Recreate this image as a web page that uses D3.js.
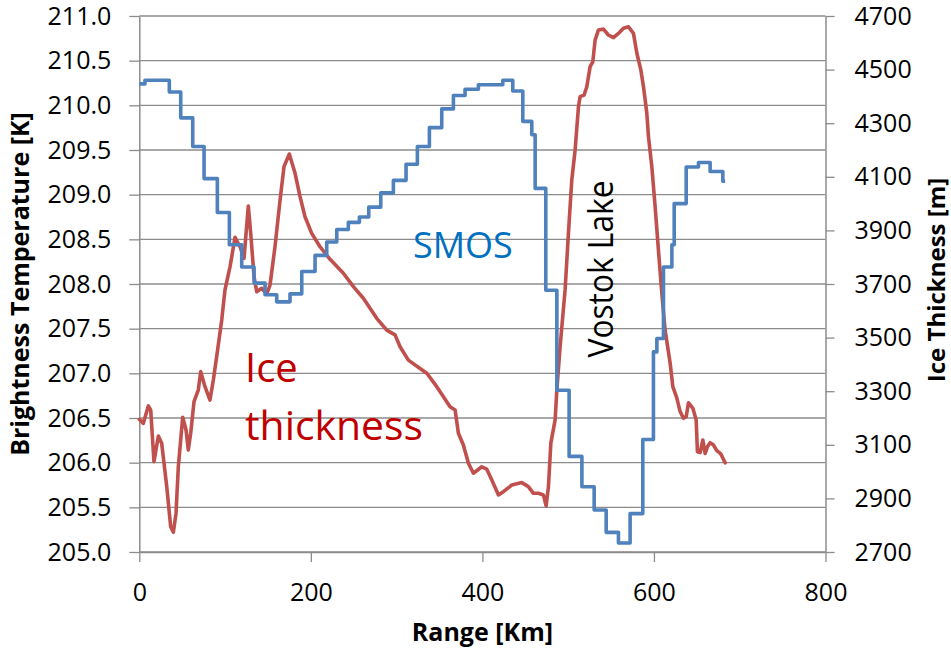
<!DOCTYPE html>
<html>
<head>
<meta charset="utf-8">
<script src="https://cdn.jsdelivr.net/npm/d3@7"></script>
<style>
	body { margin: 0; background: #fff; }
	svg text { font-family: "Open Sans", sans-serif; }
</style>
</head>
<body>
<div id="graph"></div>
<script>
// SMOS brightness temperature, step line: range where each level starts [km] and level [K]
var smosRange = [0, 6.6, 35, 48.3, 62.3, 75.5, 91, 105, 119.4, 133.8, 146.6, 160.2, 175.7, 189.4,
	204.9, 218.5, 230.2, 243.7, 256.6, 267.5, 281.5, 296.2, 311, 324.2, 338.2, 352.6, 366.2, 379.8,
	395.3, 423.8, 435.4, 447.1, 457.6, 461.5, 473.9, 486.8, 501.1, 516, 530.3, 544.3, 558.6, 572.2,
	587, 599.4, 603.4, 611.1, 620.9, 623.6, 637.6, 651.9, 665.5, 680.3, 683];
var smosTemp = [210.24, 210.28, 210.15, 209.86, 209.54, 209.18, 208.80, 208.44, 208.19, 208.01, 207.88, 207.80, 207.89, 208.14,
	208.32, 208.47, 208.61, 208.69, 208.75, 208.86, 209.02, 209.16, 209.34, 209.54, 209.75, 209.96, 210.11, 210.18,
	210.23, 210.28, 210.16, 209.82, 209.67, 209.07, 207.93, 206.81, 206.07, 205.73, 205.47, 205.22, 205.10, 205.43,
	206.26, 207.24, 207.39, 208.19, 208.44, 208.90, 209.31, 209.36, 209.26, 209.15, 209.15];

// ice thickness profile [km] / [m]
var iceRange = [0, 4.7, 10.5, 13.3, 17.1, 22.2, 26.1, 32, 36.6, 39.7, 42.8, 45.5, 50.6, 54.5, 57.1, 59.9,
	63.8, 68.8, 71.6, 76.6, 82.4, 86.3, 91, 96.1, 99.9, 105.8, 111.6, 117.4, 122.1, 127.1, 129.9, 133.8,
	136.9, 142.7, 148.6, 152.4, 158.2, 164.1, 168.7, 174.9, 181.6, 187.4, 193.2, 201, 210.7, 222.4, 237.9,
	249.6, 261.2, 276.8, 288.5, 298.2, 304, 313.7, 327.3, 335.2, 346.8, 362.3, 368.2, 372, 377.8, 383.7,
	389.5, 399.3, 405.1, 411, 418.7, 424.5, 434.3, 445.9, 453.6, 459.5, 465.3, 471.1, 474.3, 477, 479.8,
	484.8, 486.8, 490.6, 496.4, 500.3, 504.2, 508.1, 512, 513.9, 518.6, 521.7, 525.6, 528.7, 531.4, 535.3,
	541.1, 546.9, 552.8, 558.6, 564.4, 570.3, 576.1, 580.1, 584.7, 587.8, 591.7, 593.6, 597.5, 601.4, 605.2,
	609.2, 613, 618.9, 622, 626.7, 630.5, 634.4, 637.6, 640.2, 645.4, 649.2, 650.7, 653.9, 657, 659.7, 662.4,
	665.5, 669.4, 673.3, 678, 683];
var iceThick = [3195, 3180, 3245, 3230, 3037, 3133, 3106, 2944, 2794, 2774, 2844, 3018, 3203, 3155, 3081, 3143,
	3261, 3305, 3373, 3317, 3267, 3342, 3447, 3566, 3678, 3765, 3874, 3839, 3796, 3991, 3889, 3727,
	3671, 3684, 3663, 3696, 3839, 4013, 4138, 4185, 4113, 4026, 3951, 3889, 3839, 3792, 3740,
	3690, 3647, 3572, 3528, 3510, 3466, 3416, 3385, 3367, 3317, 3242, 3230, 3143, 3099, 3031,
	2994, 3018, 3009, 2969, 2913, 2925, 2950, 2959, 2944, 2919, 2919, 2913, 2872, 2944, 3106,
	3193, 3305, 3466, 3678, 3889, 4088, 4200, 4362, 4399, 4405, 4436, 4511, 4529, 4610, 4648,
	4651, 4629, 4619, 4635, 4654, 4660, 4635, 4561, 4499, 4436, 4337, 4250, 4138, 3988, 3827,
	3665, 3528, 3404, 3317, 3274, 3224, 3199, 3205, 3257, 3236, 3193, 3074, 3071, 3118, 3068, 3093,
	3108, 3099, 3078, 3066, 3033];

var xTicks = [0, 200, 400, 600, 800],
	tempTicks = [205, 205.5, 206, 206.5, 207, 207.5, 208, 208.5, 209, 209.5, 210, 210.5, 211],
	thickTicks = [2700, 2900, 3100, 3300, 3500, 3700, 3900, 4100, 4300, 4500, 4700];

var	SVGwidth = 951,
	SVGheight = 648,
	margin = {top: 16, right: 125.5, bottom: 96, left: 139.3},
	width = SVGwidth - margin.left - margin.right,
	height = SVGheight - margin.top - margin.bottom;

var svg = d3.select('div#graph')
	.append('svg')
	.attr('width', SVGwidth)
	.attr('height', SVGheight);

var g = svg.append('g')
	.attr('transform', 'translate(' + margin.left + ',' + margin.top + ')');

var x = d3.scaleLinear().domain([0, 800]).range([0, width]),
	yT = d3.scaleLinear().domain([205, 211]).range([height, 0]),
	yH = d3.scaleLinear().domain([2700, 4700]).range([height, 0]);

var gridColor = '#8c8c8c';

// horizontal gridlines
g.append('g')
	.selectAll('line')
	.data(tempTicks)
	.enter()
	.append('line')
	.attr('x1', 0)
	.attr('x2', width)
	.attr('y1', function(d) { return yT(d); })
	.attr('y2', function(d) { return yT(d); })
	.attr('stroke', gridColor)
	.attr('stroke-width', 1.3);

function styleAxis(sel) {
	sel.selectAll('path, line').attr('stroke', gridColor).attr('stroke-width', 1.3);
	sel.selectAll('text').attr('font-size', 25).attr('fill', '#000');
	sel.select('.domain').attr('stroke-width', 1.5);
}

g.append('g')
	.attr('transform', 'translate(0,' + height + ')')
	.call(d3.axisBottom(x).tickValues(xTicks).tickSize(10).tickPadding(21).tickSizeOuter(0))
	.call(styleAxis);

g.append('g')
	.call(d3.axisLeft(yT).tickValues(tempTicks).tickFormat(d3.format('.1f')).tickSize(10).tickPadding(18).tickSizeOuter(0))
	.call(styleAxis);

g.append('g')
	.attr('transform', 'translate(' + width + ',0)')
	.call(d3.axisRight(yH).tickValues(thickTicks).tickFormat(d3.format('d')).tickSize(9).tickPadding(20).tickSizeOuter(0))
	.call(styleAxis);

svg.selectAll('.tick text').attr('font-family', '"Open Sans", sans-serif');

// ice thickness line (right axis)
var iceLine = d3.line()
	.x(function(d, i) { return x(iceRange[i]); })
	.y(function(d) { return yH(d); });

g.append('path')
	.attr('d', iceLine(iceThick))
	.attr('fill', 'none')
	.attr('stroke', '#C0504D')
	.attr('stroke-width', 3.6)
	.attr('stroke-linejoin', 'round')
	.attr('stroke-linecap', 'round');

// SMOS step line (left axis)
var smosLine = d3.line()
	.curve(d3.curveStepAfter)
	.x(function(d, i) { return x(smosRange[i]); })
	.y(function(d) { return yT(d); });

g.append('path')
	.attr('d', smosLine(smosTemp))
	.attr('fill', 'none')
	.attr('stroke', '#4F81BD')
	.attr('stroke-width', 3.6)
	.attr('stroke-linejoin', 'round');

// axis titles
svg.append('text')
	.attr('x', margin.left + width / 2)
	.attr('y', 641)
	.attr('text-anchor', 'middle')
	.attr('font-size', 25)
	.attr('font-weight', 'bold')
	.text('Range [Km]');

svg.append('text')
	.attr('transform', 'translate(29,284) rotate(-90)')
	.attr('text-anchor', 'middle')
	.attr('font-size', 25)
	.attr('font-weight', 'bold')
	.text('Brightness Temperature [K]');

svg.append('text')
	.attr('transform', 'translate(945,280) rotate(-90)')
	.attr('text-anchor', 'middle')
	.attr('font-size', 24)
	.attr('font-weight', 'bold')
	.text('Ice Thickness [m]');

// annotations
svg.append('text')
	.attr('x', 413)
	.attr('y', 258)
	.attr('font-size', 36)
	.attr('fill', '#0070C0')
	.text('SMOS');

svg.append('text')
	.attr('x', 245)
	.attr('y', 382)
	.attr('font-size', 40)
	.attr('fill', '#C00000')
	.text('Ice');

svg.append('text')
	.attr('x', 245)
	.attr('y', 440)
	.attr('font-size', 40)
	.attr('fill', '#C00000')
	.attr('textLength', 178)
	.attr('lengthAdjust', 'spacingAndGlyphs')
	.text('thickness');

svg.append('text')
	.attr('transform', 'translate(613,269) rotate(-90)')
	.attr('text-anchor', 'middle')
	.attr('font-size', 35)
	.attr('fill', '#000')
	.attr('textLength', 177)
	.attr('lengthAdjust', 'spacingAndGlyphs')
	.text('Vostok Lake');
</script>
</body>
</html>
